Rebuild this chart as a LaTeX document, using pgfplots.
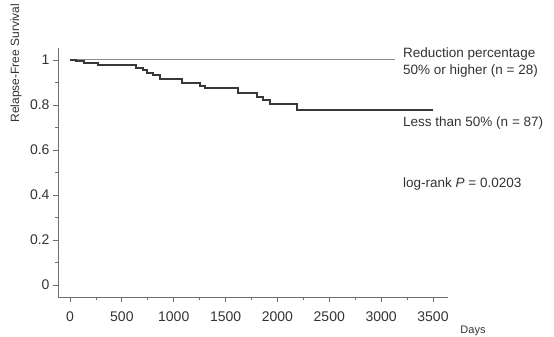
\documentclass[border=0pt]{standalone}
\usepackage{fontspec}
\setmainfont{Liberation Sans}
\usepackage{pgfplots}
\pgfplotsset{compat=1.18}
\definecolor{axgray}{HTML}{6E6E6E}
\definecolor{txtgray}{HTML}{333333}
\definecolor{hiline}{HTML}{8A8A8A}
\definecolor{loline}{HTML}{383838}
\begin{document}
\begin{tikzpicture}[x=1pt,y=1pt]
\path[use as bounding box] (0,0) rectangle (554,337);
\begin{axis}[
  at={(58pt,40pt)}, anchor=south west,
  scale only axis, width=390pt, height=249pt,
  xmin=-116, xmax=3645, ymin=-0.053, ymax=1.053,
  axis x line*=bottom, axis y line*=left,
  axis line style={draw=axgray, line width=0.8pt},
  xtick={0,500,...,3500}, ytick={0,0.2,...,1},
  yticklabels={0,0.2,0.4,0.6,0.8,1},
  minor x tick num=1, minor y tick num=1,
  tick align=outside,
  major tick length=5pt, minor tick length=3pt,
  tick style={draw=axgray, line width=0.8pt},
  /pgf/number format/assume math mode=true,
  /pgf/number format/1000 sep={},
  ticklabel style={font=\fontsize{14}{14}\selectfont, text=txtgray},
  xticklabel style={yshift=-6pt},
  clip=false,
]
\addplot[hiline, line width=1.1pt] coordinates {(0,1) (3130,1)};
\addplot[loline, line width=2pt, const plot] coordinates {
(0,1.0) (60,0.994) (130,0.988) (270,0.977) (640,0.965) (700,0.954)
(740,0.942) (800,0.931) (870,0.915) (1080,0.897) (1250,0.885)
(1300,0.874) (1620,0.851) (1800,0.837) (1860,0.822) (1930,0.805)
(2190,0.777) (3500,0.777)};
\end{axis}
\begin{scope}[every node/.style={font=\fontsize{13.5}{14}\selectfont, text=txtgray, anchor=west, inner sep=0pt}]
\node at (403,283) {Reduction percentage};
\node at (403,266) {50\% or higher (n = 28)};
\node at (403,214) {Less than 50\% (n = 87)};
\node at (403,153) {log-rank \textit{P} = 0.0203};
\end{scope}
\node[font=\fontsize{11}{12}\selectfont, text=txtgray, inner sep=0pt] at (473,6) {Days};
\node[font=\fontsize{12}{12}\selectfont, text=txtgray, rotate=90, inner sep=0pt] at (16,274) {Relapse-Free Survival};
\end{tikzpicture}
\end{document}
